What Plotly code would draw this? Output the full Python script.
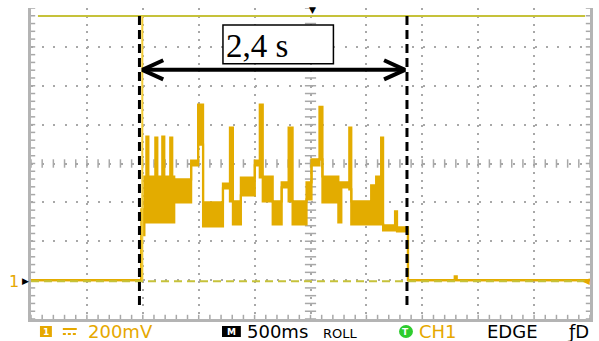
import plotly.graph_objects as go
import numpy as np

# ---------------- data (time in s, voltage in V) ----------------
seg_t = [0.000, 0.9875, 1.0142, 1.0320, 1.0498, 1.1121, 1.1299, 1.1744, 1.1922,
         1.2456, 1.2633, 1.2811, 1.4324, 1.4947, 1.5391, 1.7171, 1.7794, 1.8060,
         1.8772, 2.0018, 2.0463, 2.0730, 2.1619, 2.2420, 2.3043, 2.3399, 2.4644,
         2.5089, 2.5801, 2.6068, 2.7491, 2.7758, 2.8470, 2.8648, 3.0427, 3.0872,
         3.1317, 3.1495, 3.2562, 3.2740, 3.3719, 3.7900, 3.8080]
seg_hi = [0.000, 0.364, 0.533, 0.738, 0.533, 0.733, 0.533, 0.738, 0.533,
          0.733, 0.533, 0.518, 0.615, 0.903, 0.400, 0.497, 0.785, 0.405,
          0.528, 0.615, 0.903, 0.533, 0.405, 0.503, 0.785, 0.405, 0.503,
          0.621, 0.892, 0.533, 0.503, 0.503, 0.785, 0.405, 0.487, 0.533,
          0.733, 0.282, 0.354, 0.272, 0.000, 0.020, 0.000]
seg_lo = [0.000, 0.231, 0.297, 0.297, 0.297, 0.297, 0.297, 0.297, 0.297,
          0.297, 0.297, 0.400, 0.590, 0.697, 0.277, 0.472, 0.405, 0.287,
          0.436, 0.590, 0.528, 0.405, 0.287, 0.477, 0.405, 0.287, 0.415,
          0.590, 0.621, 0.400, 0.297, 0.477, 0.467, 0.287, 0.287, 0.287,
          0.287, 0.256, 0.267, 0.251, 0.000, 0.000, 0.000]
t_end = 5.0
ref_trace_t = [0.062, 4.956]
ref_trace_v = 1.359
cursor_t = [0.970, 3.363]
cursor_v = [1.359, -0.128]
arrow_v = 1.082
label_text = "2,4 s"
ch_scale = "200mV"
time_scale = "500ms"

# ---------------- styling ----------------
TRACE = "#E3AC00"
GRIDC = "#A8A8A8"
OLIVE = "#C6C23A"
ORANGE = "#E6A800"

x_env = seg_t + [t_end]
hi_env = seg_hi + [seg_hi[-1]]
lo_env = seg_lo + [seg_lo[-1]]

fig = go.Figure()

# center cross ticks and border ticks (graticule decoration)
minor_t = np.arange(0, 5.0001, 0.1)
minor_v = np.arange(-0.2, 1.4001, 0.04)
fig.add_trace(go.Scatter(x=[2.5] * len(minor_v), y=minor_v, mode="markers",
                         marker=dict(symbol="line-ew", size=8, line=dict(color=GRIDC, width=1.5)),
                         hoverinfo="skip"))
fig.add_trace(go.Scatter(x=minor_t, y=[0.6] * len(minor_t), mode="markers",
                         marker=dict(symbol="line-ns", size=6, line=dict(color=GRIDC, width=1.5)),
                         hoverinfo="skip"))
fig.add_trace(go.Scatter(x=[0.0] * len(minor_v), y=minor_v, mode="markers", cliponaxis=True,
                         marker=dict(symbol="line-ew", size=6, line=dict(color=GRIDC, width=1.5)),
                         hoverinfo="skip"))
fig.add_trace(go.Scatter(x=[5.0] * len(minor_v), y=minor_v, mode="markers", cliponaxis=True,
                         marker=dict(symbol="line-ew", size=6, line=dict(color=GRIDC, width=1.5)),
                         hoverinfo="skip"))
fig.add_trace(go.Scatter(x=minor_t, y=[-0.2] * len(minor_t), mode="markers", cliponaxis=True,
                         marker=dict(symbol="line-ns", size=6, line=dict(color=GRIDC, width=1.5)),
                         hoverinfo="skip"))

# signal envelope
fig.add_trace(go.Scatter(x=x_env, y=lo_env, mode="lines",
                         line=dict(color=TRACE, width=2.2, shape="hv"), hoverinfo="skip"))
fig.add_trace(go.Scatter(x=x_env, y=hi_env, mode="lines", fill="tonexty", fillcolor=TRACE,
                         line=dict(color=TRACE, width=2.2, shape="hv"), hoverinfo="skip"))

# ground reference dashed line
fig.add_trace(go.Scatter(x=[0, t_end], y=[-0.006, -0.006], mode="lines",
                         line=dict(color=OLIVE, width=2, dash="8px,5px"), hoverinfo="skip"))
# top reference trace
fig.add_trace(go.Scatter(x=ref_trace_t, y=[ref_trace_v] * 2, mode="lines",
                         line=dict(color=OLIVE, width=2), hoverinfo="skip"))
# yellow edge line next to left cursor
fig.add_trace(go.Scatter(x=[seg_t[1] + 0.008] * 2, y=[0, ref_trace_v], mode="lines",
                         line=dict(color="#F2CC3A", width=2), hoverinfo="skip"))
# cursors
for ct in cursor_t:
    fig.add_trace(go.Scatter(x=[ct, ct], y=cursor_v, mode="lines",
                             line=dict(color="black", width=3, dash="9px,5px"), hoverinfo="skip"))

# double arrow between cursors
a0 = cursor_t[0] + 0.026
a1 = cursor_t[1] - 0.018
dt, dv = 0.187, 0.049
ax = [a0 + dt, a0, a0 + dt, None, a0, a1, None, a1 - dt, a1, a1 - dt]
ay = [arrow_v + dv, arrow_v, arrow_v - dv, None, arrow_v, arrow_v, None,
      arrow_v + dv, arrow_v, arrow_v - dv]
fig.add_trace(go.Scatter(x=ax, y=ay, mode="lines", line=dict(color="black", width=4),
                         hoverinfo="skip"))

# ---------------- layout helpers ----------------
L, R, T, B = 31, 6, 8, 22
W, H = 599, 341
PW, PH = W - L - R, H - T - B


def pxx(x):
    return (x - L) / PW


def pxy(y):
    return (H - B - y) / PH


shapes = [
    dict(type="rect", xref="x", yref="y", x0=1.717, x1=2.705, y0=1.113, y1=1.313,
         line=dict(color="black", width=1.5), fillcolor="white", layer="above"),
    # orange channel badge
    dict(type="rect", xref="paper", yref="paper", x0=pxx(40), x1=pxx(52), y0=pxy(337), y1=pxy(326),
         line=dict(width=0), fillcolor=ORANGE),
    # DC symbol
    dict(type="line", xref="paper", yref="paper", x0=pxx(63), x1=pxx(77), y0=pxy(329), y1=pxy(329),
         line=dict(color=ORANGE, width=2)),
    dict(type="line", xref="paper", yref="paper", x0=pxx(63), x1=pxx(77), y0=pxy(334), y1=pxy(334),
         line=dict(color=ORANGE, width=2, dash="3px,2px")),
    # M badge
    dict(type="rect", xref="paper", yref="paper", x0=pxx(223), x1=pxx(242), y0=pxy(337), y1=pxy(326),
         line=dict(width=0), fillcolor="black"),
    # T badge
    dict(type="circle", xref="paper", yref="paper", x0=pxx(401), x1=pxx(415), y0=pxy(338), y1=pxy(325),
         line=dict(width=0), fillcolor="#2ECC2E"),
]

SF = "DejaVu Sans"


def txt(s, x, y, size, color, xanchor="left", family=SF):
    return dict(text=s, xref="paper", yref="paper", x=pxx(x), y=pxy(y), xanchor=xanchor,
                yanchor="middle", showarrow=False, font=dict(family=family, size=size, color=color))


ann = [
    dict(text=label_text, xref="x", yref="y", x=1.725, y=1.207, xanchor="left", yanchor="middle",
         showarrow=False, font=dict(family="Liberation Serif", size=33, color="black")),
    txt("<b>1</b>", 46, 331.5, 9, "white", "center"),
    txt(ch_scale, 86, 331.5, 18, ORANGE),
    txt("<b>M</b>", 232.5, 331.5, 9, "white", "center"),
    txt(time_scale, 246, 331.5, 18, "black"),
    txt("ROLL", 323, 333, 13, "black"),
    txt("<b>T</b>", 408, 331.5, 9, "white", "center"),
    txt("CH1", 419, 331.5, 18, ORANGE),
    txt("EDGE", 487, 331.5, 18, "black"),
    txt("ƒD", 568, 331.5, 18, "black"),
    txt("1", 14, 281, 16, ORANGE, "center"),
    txt("▶", 25, 281, 9, "black", "center"),
    txt("▼", 314, 10, 9, "black", "center"),
    txt("◀", 589, 281, 9, ORANGE, "center"),
]

fig.update_layout(
    width=W, height=H, margin=dict(l=L, r=R, t=T, b=B),
    plot_bgcolor="white", paper_bgcolor="white", showlegend=False,
    shapes=shapes, annotations=ann,
    xaxis=dict(range=[0, 5], dtick=0.5, tick0=0, showgrid=True, gridcolor=GRIDC, gridwidth=2,
               griddash="2px,5.8px", zeroline=False, showticklabels=False, ticks="",
               showline=True, linecolor="#B4B4B4", linewidth=2.5, mirror=False, fixedrange=True),
    yaxis=dict(range=[-0.2, 1.4], dtick=0.2, tick0=-0.2, showgrid=True, gridcolor=GRIDC, gridwidth=2,
               griddash="2px,9.2px", zeroline=False, showticklabels=False, ticks="",
               showline=True, linecolor="#B4B4B4", linewidth=2.5, mirror=True, fixedrange=True),
)

fig.write_html("out.html", config={"displayModeBar": False},
               post_script="document.body.style.margin='0';document.body.style.overflow='hidden';")
